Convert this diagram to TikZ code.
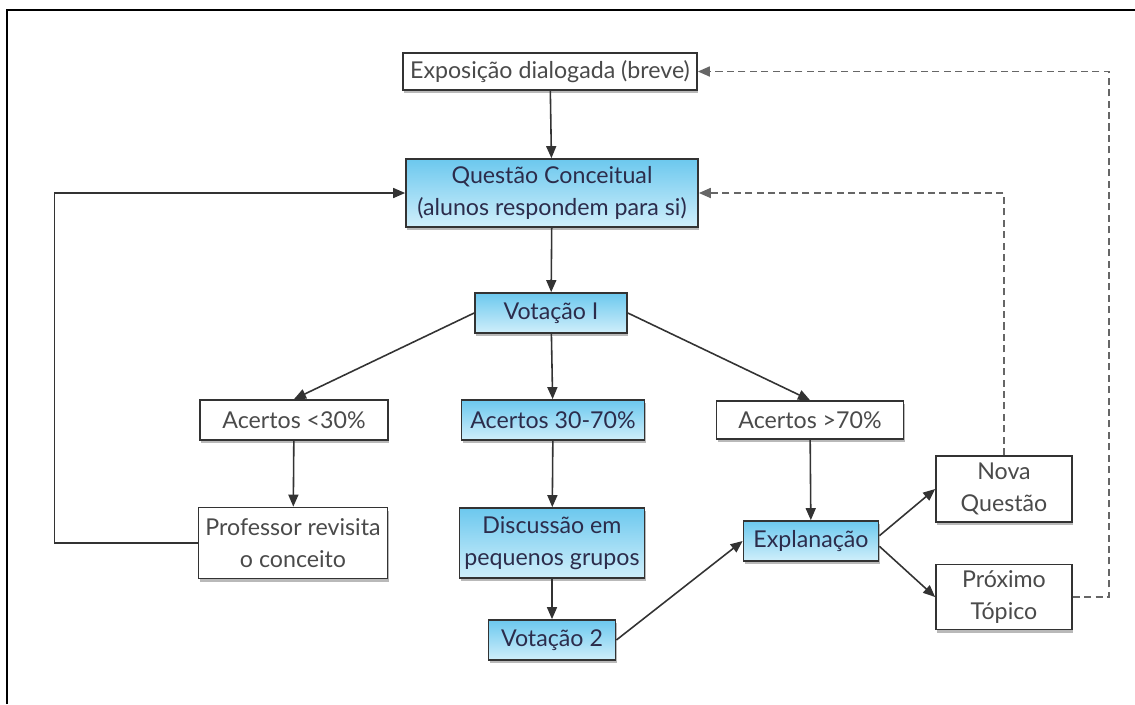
\documentclass[tikz,border=0pt]{standalone}
\usepackage{fontspec}
\setmainfont{Lato}
\usepackage{tikz}
\usetikzlibrary{arrows.meta,positioning,shadows}
\usepackage{xcolor}
\definecolor{fcline}{HTML}{333333}
\definecolor{fctext}{HTML}{4A4A4A}
\definecolor{fctop}{HTML}{6CC8EE}
\definecolor{fcbot}{HTML}{D0EFFB}
\tikzset{
  fcbox/.style={draw=fcline, line width=1pt, rectangle, fill=white, inner sep=0pt,
    align=center, text=fctext, font=\fontsize{13.2}{18}\selectfont,
    drop shadow={shadow xshift=0.6pt, shadow yshift=-1.8pt, opacity=0.55}},
  fcblue/.style={fcbox, top color=fctop, bottom color=fcbot, text=black!70!blue!40!fctext},
  fcarrow/.style={-{Triangle[length=2.4mm,width=2mm]}, draw=fcline, line width=0.9pt},
  fcdarrow/.style={-{Triangle[length=2.4mm,width=2mm]}, draw=black!60, line width=1pt,
    dash pattern=on 4pt off 2.5pt},
}

\begin{document}
\begin{tikzpicture}[x=0.02cm, y=-0.02cm]
  \useasboundingbox (0,0) rectangle (1135,704);
  % Frame (only top and left edges show)
  \draw[line width=1.2pt] (7,704) -- (7,10) -- (1135,10);

  % Central column
  \node[fcbox, minimum width=5.88cm, minimum height=0.74cm] (expo) at (550,71.5) {Exposição dialogada (breve)};
  \node[fcblue, minimum width=5.84cm, minimum height=1.36cm] (quest) at (552,193) {Questão Conceitual\\(alunos respondem para si)};
  \node[fcblue, minimum width=3.04cm, minimum height=0.8cm] (vot1) at (551,313) {Votação I};
  \node[fcblue, minimum width=3.66cm, minimum height=0.8cm] (ac3070) at (553,420) {Acertos 30-70\%};
  \node[fcblue, minimum width=3.7cm, minimum height=1.4cm] (disc) at (552,543) {Discussão em\\pequenos grupos};
  \node[fcblue, minimum width=2.54cm, minimum height=0.8cm] (vot2) at (552,640) {Votação 2};

  % Left branch
  \node[fcbox, minimum width=3.76cm, minimum height=0.8cm] (ac30) at (294,420) {Acertos <30\%};
  \node[fcbox, minimum width=3.78cm, minimum height=1.42cm] (prof) at (293,543) {Professor revisita\\o conceito};

  % Right branch
  \node[fcbox, minimum width=3.74cm, minimum height=0.76cm] (ac70) at (810,420) {Acertos >70\%};
  \node[fcblue, minimum width=2.7cm, minimum height=0.8cm] (expl) at (811,541) {Explanação};
  \node[fcbox, minimum width=2.72cm, minimum height=1.32cm] (nova) at (1004,489) {Nova\\Questão};
  \node[fcbox, minimum width=2.72cm, minimum height=1.3cm] (prox) at (1004,597) {Próximo\\Tópico};

  % Solid connectors
  \draw[fcarrow] (expo) -- (quest);
  \draw[fcarrow] (quest) -- (vot1);
  \draw[fcarrow] (vot1.west) -- (ac30.north);
  \draw[fcarrow] (vot1) -- (ac3070);
  \draw[fcarrow] (vot1.east) -- (ac70.north);
  \draw[fcarrow] (ac30) -- (prof);
  \draw[fcarrow] (ac3070) -- (disc);
  \draw[fcarrow] (disc) -- (vot2);
  \draw[fcarrow] (vot2.east) -- (expl.west);
  \draw[fcarrow] (ac70) -- (expl);
  \draw[fcarrow] ([yshift=3pt]expl.east) -- (nova.west);
  \draw[fcarrow] ([yshift=-3pt]expl.east) -- (prox.west);
  \draw[fcarrow] (prof.west) -- ++(-143,0) |- (quest.west);

  % Dashed returns
  \draw[fcdarrow] (nova.north) |- (quest.east);
  \draw[fcdarrow] (prox.east) -- ++(36,0) |- (expo.east);
\end{tikzpicture}
\end{document}
